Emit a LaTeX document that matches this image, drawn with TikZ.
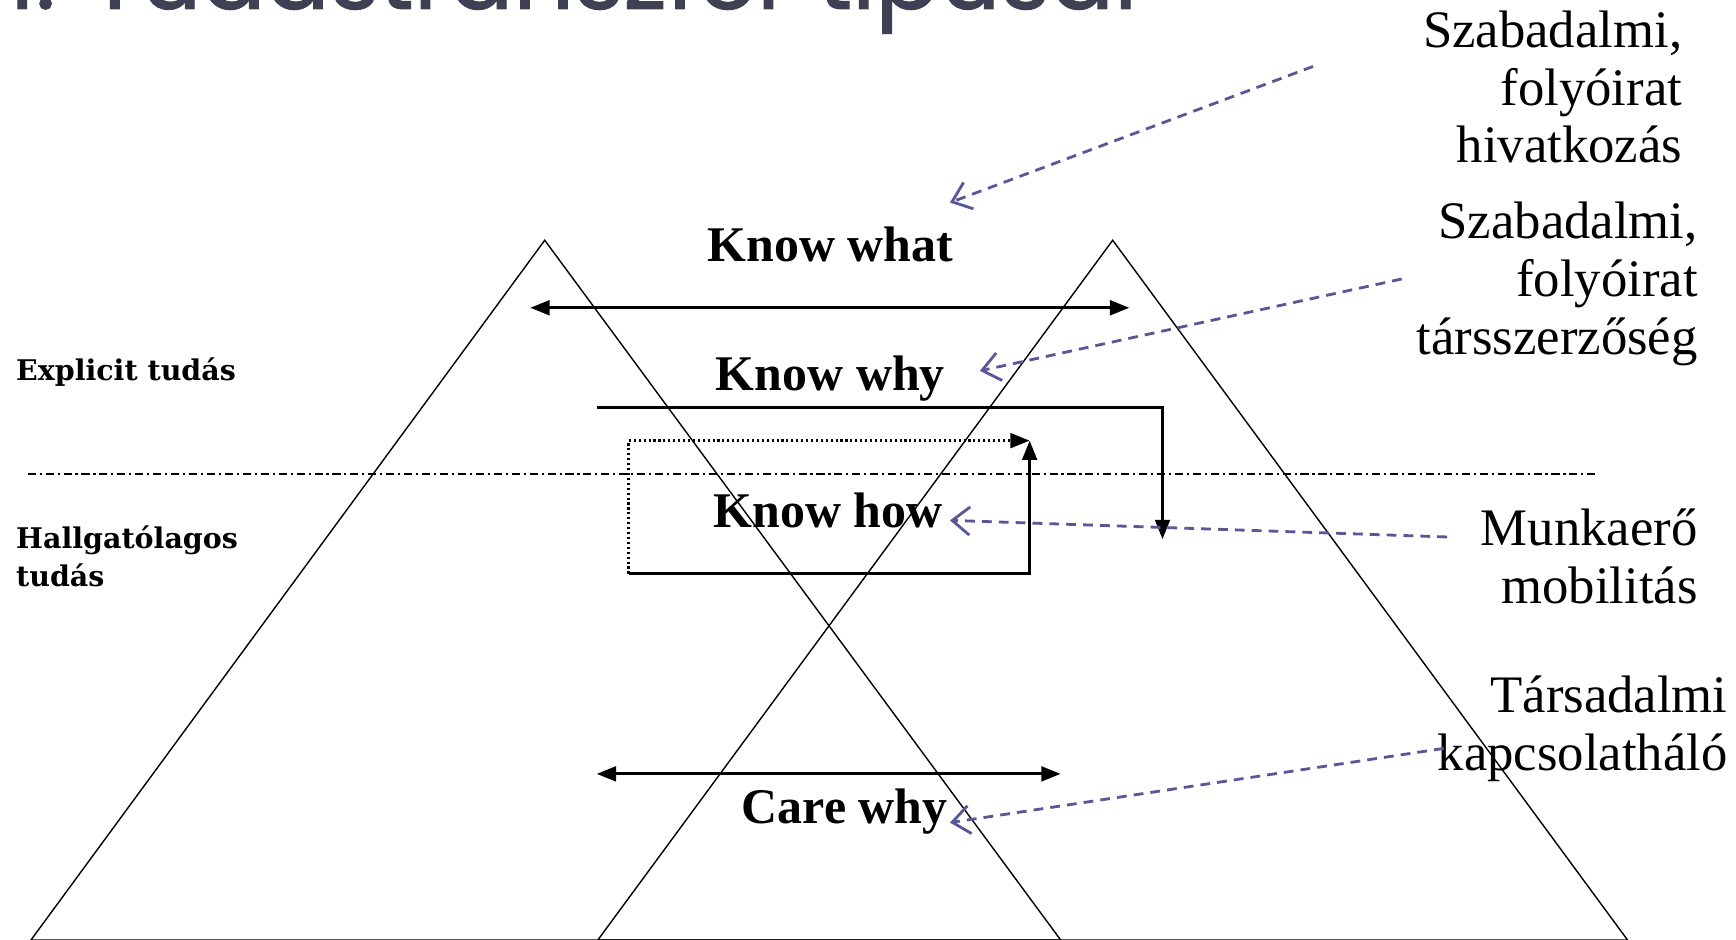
\documentclass[tikz,border=0pt]{standalone}
\usepackage{fontspec}
\setmainfont{Liberation Serif}
\newfontfamily\sidefont{DejaVu Serif}
\newfontfamily\headfont[FakeBold=1.2]{Poppins}
\usetikzlibrary{arrows.meta}

\definecolor{slidegray}{RGB}{64,64,84}
\definecolor{linkblue}{RGB}{88,88,150}

\tikzset{
  heading/.style={font=\headfont\fontsize{27}{30}\selectfont, text=slidegray, inner sep=0pt},
  level/.style={font=\fontsize{14.2}{16}\selectfont\bfseries, inner sep=0pt},
  kind/.style={font=\sidefont\fontsize{8.1}{11}\selectfont\bfseries, align=left, inner sep=0pt, anchor=base west},
  channel/.style={font=\fontsize{15}{16.4}\selectfont, align=right, inner sep=0pt, anchor=base east},
  pyramid/.style={line width=0.4pt},
  border/.style={line width=0.4pt, dash pattern=on 2.3pt off 1.1pt on 0.6pt off 1.1pt},
  flow/.style={line width=0.8pt, -{Triangle[length=5.5pt,width=4.2pt]}},
  twoway/.style={line width=0.8pt, {Triangle[length=5.5pt,width=4.2pt]}-{Triangle[length=5.5pt,width=4.2pt]}},
  pointer/.style={linkblue, line width=0.8pt, dash pattern=on 2.8pt off 2pt, -{Straight Barb[length=5pt,width=8pt]}},
}

\begin{document}
\begin{tikzpicture}[x=0.1107mm, y=-0.1107mm]
\useasboundingbox (0,0) rectangle (1568,849);
\clip (0,0) rectangle (1568,849);

% title, only its lower part shows
\node[heading, anchor=base east] (title) at (1028,8) {1. Tudástranszfer típusai};

% the two pyramids
\draw[pyramid] (28,849) -- (492,217) -- (958,849) -- cycle;
\draw[pyramid] (540,849) -- (1005,217) -- (1470,849) -- cycle;

% explicit / tacit border
\coordinate (bl) at (25,428);
\coordinate (br) at (1442,428);
\draw[border] (bl) -- (br);

% (multi-line nodes sit on their last baseline)
\node[kind] (explicit) at (14,344) {Explicit tudás};
\node[kind] (tacit) at (14,530) {Hallgatólagos\\tudás};

% knowledge levels
\node[level] (what) at (750,221) {Know what};
\node[level] (why) at (750,342) {Know why};
\node[level] (how) at (748,461) {Know how};
\node[level] (care) at (763,733) {Care why};

% transfer between the pyramids
\coordinate (w1) at (479,278);
\coordinate (w2) at (1020,278);
\draw[twoway] (w1) -- (w2);

\coordinate (y1) at (539,368);
\coordinate (y2) at (1050,487);
\draw[flow] (y1) -| (y2);

\coordinate (h1) at (568,518);
\coordinate (h2) at (930,398);
\draw[flow, dash pattern=on 0.6pt off 0.8pt] (h1) |- (h2);
\draw[flow] (h1) -| (h2);

\coordinate (c1) at (539,699);
\coordinate (c2) at (958,699);
\draw[twoway] (c1) -- (c2);

% transfer channels
\node[channel] (cite) at (1520,147) {Szabadalmi,\\folyóirat\\hivatkozás};
\node[channel] (coauth) at (1534,320) {Szabadalmi,\\folyóirat\\társszerzőség};
\node[channel] (mobil) at (1534,545) {Munkaerő\\mobilitás};
\node[channel] (social) at (1561,696) {Társadalmi\\kapcsolatháló};

\coordinate (p1) at (1186,60);
\coordinate (q1) at (858,183);
\coordinate (p2) at (1266,252);
\coordinate (q2) at (885,335);
\coordinate (p3) at (1307,485);
\coordinate (q3) at (858,470);
\coordinate (p4) at (1304,676);
\coordinate (q4) at (858,743);
\draw[pointer] (p1) -- (q1);
\draw[pointer] (p2) -- (q2);
\draw[pointer] (p3) -- (q3);
\draw[pointer] (p4) -- (q4);
\end{tikzpicture}
\end{document}
